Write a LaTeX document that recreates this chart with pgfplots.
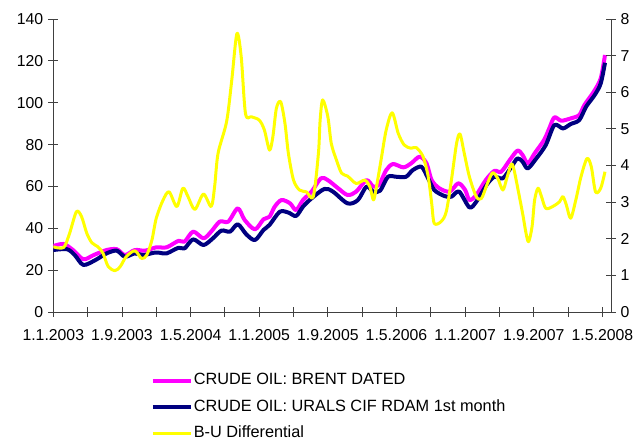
\documentclass[border=0pt]{standalone}
\usepackage{fontspec}
\setmainfont{Liberation Sans}
\usepackage{pgfplots}
\pgfplotsset{compat=1.18}

\definecolor{brent}{RGB}{255,0,255}
\definecolor{urals}{RGB}{0,0,128}
\definecolor{diffc}{RGB}{255,255,0}

\begin{document}
\begin{tikzpicture}
\pgfplotsset{
    common/.style={
        scale only axis,
        width=557.7pt, height=293pt,
        xmin=0, xmax=65,
        tick align=center,
        major tick length=10pt,
        axis line style={black!75, line width=0.8pt},
        tick style={black!75, line width=0.8pt},
        ticklabel style={font=\fontsize{15.8}{16}\selectfont},
        /pgf/number format/assume math mode=true,
    },
}
\begin{axis}[
    common,
    axis x line*=bottom,
    axis y line*=left,
    ymin=0, ymax=140,
    ytick={0,20,...,140},
    xtick={0,4,...,64},
    xticklabels={1.1.2003,,1.9.2003,,1.5.2004,,1.1.2005,,1.9.2005,,1.5.2006,,1.1.2007,,1.9.2007,,1.5.2008},
    xticklabel style={yshift=-9pt},
    yticklabel style={xshift=-1.5pt},
    legend style={
        at={(0.1745,-0.205)}, anchor=north west,
        draw=none, fill=none, inner sep=0pt,
        font=\fontsize{16.3}{17}\selectfont,
        row sep=10pt,
        nodes={inner sep=1pt, text height=11.5pt, text depth=3pt},
    },
    legend cell align=left,
    legend image code/.code={\draw[#1] (0pt,0pt) -- (38pt,0pt);},
]
% Brent dated, USD/bbl, x = months since 1.1.2003
\addplot[brent, line width=4pt, smooth, tension=0.5, line join=round] coordinates {
(0.0,31.5) (1.2,32.5) (2.3,29.6) (3.5,25.2) (4.7,27.2) (6.2,29.6) (7.4,30.0)
(8.35,27.2) (9.5,29.6) (10.7,29.3) (12.0,30.9) (13.2,30.9) (14.6,34.0) (15.3,33.6)
(16.3,38.4) (17.5,35.2) (18.4,38.4) (19.4,43.2) (20.4,43.2) (21.5,49.5) (22.3,44.0)
(23.5,39.5) (24.5,44.3) (25.2,45.5) (25.8,50.3) (26.6,53.5) (27.6,51.9) (28.3,48.7)
(29.1,53.5) (30.1,57.5) (31.2,63.9) (32.0,63.0) (33.2,59.1) (34.3,55.9) (35.3,57.5)
(36.5,63.0) (37.3,59.9) (38.0,61.0) (38.8,67.8) (39.6,70.7) (40.8,69.1) (41.7,71.0)
(42.7,74.2) (43.5,71.0) (44.1,63.0) (45.0,59.1) (46.2,57.5) (47.2,61.5) (48.0,58.3)
(48.5,53.5) (49.3,55.9) (50.4,63.0) (51.4,67.4) (52.2,67.0) (53.2,72.6) (54.1,77.1)
(54.7,75.0) (55.3,71.0) (56.1,75.8) (57.2,82.2) (57.8,87.7) (58.4,93.0) (59.2,91.4)
(60.3,92.5) (61.3,94.1) (61.9,98.9) (63.0,105.3) (63.8,111.6) (64.3,122.8)
};
\addlegendentry{CRUDE OIL: BRENT DATED}
% Urals CIF Rotterdam 1st month
\addplot[urals, line width=4pt, smooth, tension=0.5, line join=round] coordinates {
(0.0,29.6) (1.6,30.0) (2.5,27.2) (3.5,22.5) (4.9,24.8) (6.2,28.0) (7.4,29.3)
(8.35,26.4) (9.5,28.0) (10.5,27.2) (11.7,28.3) (12.4,28.3) (13.2,28.0) (14.6,30.7)
(15.3,30.4) (16.3,34.7) (17.5,32.0) (18.6,35.2) (19.6,38.9) (20.6,38.4) (21.5,41.9)
(22.5,37.1) (23.5,34.4) (24.5,39.2) (25.2,41.6) (26.4,47.9) (27.4,47.5) (28.3,45.9)
(29.1,50.3) (30.1,54.3) (31.6,58.8) (32.6,57.5) (34.3,51.9) (35.5,53.5) (36.5,59.9)
(37.3,57.5) (38.1,58.0) (39.0,64.6) (40.0,64.6) (41.1,64.6) (41.9,67.8) (42.9,69.4)
(43.6,64.6) (44.4,58.3) (45.6,55.4) (46.4,55.1) (47.3,57.5) (48.5,50.0) (49.3,52.7)
(50.5,60.7) (51.4,64.6) (52.4,63.9) (53.4,69.4) (54.1,73.4) (54.7,71.8) (55.3,68.6)
(56.3,73.4) (57.4,79.8) (58.4,89.3) (59.4,87.7) (60.3,89.8) (61.3,91.7) (62.1,98.1)
(63.1,103.7) (63.8,109.2) (64.3,119.1)
};
\addlegendentry{CRUDE OIL: URALS CIF RDAM 1st month}
\addlegendimage{diffc, line width=3pt}
\addlegendentry{B-U Differential}
\end{axis}

\begin{axis}[
    common,
    axis x line=none,
    axis y line*=right,
    ymin=0, ymax=8,
    ytick={0,1,...,8},
    yticklabel style={xshift=1pt},
]
% Brent - Urals differential, right axis
\addplot[diffc, line width=3pt, smooth, tension=0.5, line join=round] coordinates {
(0.0,1.78) (1.2,1.76) (1.9,2.15) (2.7,2.74) (3.3,2.60) (3.9,2.15) (4.5,1.89)
(5.2,1.78) (5.8,1.60) (6.4,1.24) (7.2,1.13) (7.8,1.24) (8.5,1.51) (9.5,1.67)
(10.3,1.46) (10.9,1.56) (11.5,1.97) (12.0,2.56) (12.8,3.06) (13.5,3.28) (14.4,2.88)
(15.1,3.38) (15.7,3.15) (16.5,2.80) (17.5,3.22) (18.4,2.88) (18.8,3.42) (19.2,4.33)
(20.2,5.20) (20.8,6.33) (21.4,7.60) (21.9,6.97) (22.4,5.42) (23.1,5.33) (24.0,5.24)
(24.6,4.97) (25.2,4.42) (25.6,4.80) (26.0,5.56) (26.5,5.74) (27.0,5.15) (27.4,4.33)
(28.0,3.60) (28.7,3.33) (29.5,3.28) (30.3,3.15) (30.9,4.33) (31.1,5.24) (31.4,5.79)
(32.0,5.33) (32.4,4.60) (33.0,4.15) (33.6,3.79) (34.3,3.71) (35.3,3.51) (36.3,3.60)
(36.9,3.42) (37.3,3.06) (37.6,3.33) (38.2,4.15) (38.8,4.97) (39.5,5.44) (40.2,4.88)
(40.9,4.56) (41.7,4.47) (42.3,4.49) (43.1,4.24) (43.7,3.69) (44.1,2.97) (44.4,2.42)
(45.2,2.47) (45.8,2.74) (46.4,3.60) (47.0,4.60) (47.4,4.86) (47.9,4.33) (48.5,3.69)
(49.3,3.15) (49.9,3.10) (50.6,3.51) (51.2,3.80) (51.8,3.65) (52.4,3.33) (52.9,3.69)
(53.4,4.04) (53.7,3.88) (54.1,3.42) (54.7,2.69) (55.1,2.15) (55.4,1.92) (55.8,2.33)
(56.1,3.06) (56.5,3.38) (56.9,3.15) (57.4,2.83) (58.2,2.88) (59.0,3.01) (59.4,3.15)
(59.8,2.92) (60.3,2.56) (60.9,3.06) (61.5,3.69) (62.2,4.19) (62.7,3.97) (63.2,3.28)
(63.8,3.38) (64.3,3.83)
};
\end{axis}
\pgfresetboundingbox
\path[use as bounding box] (-53.3pt,-131pt) rectangle (586.7pt,312pt);
\end{tikzpicture}
\end{document}
